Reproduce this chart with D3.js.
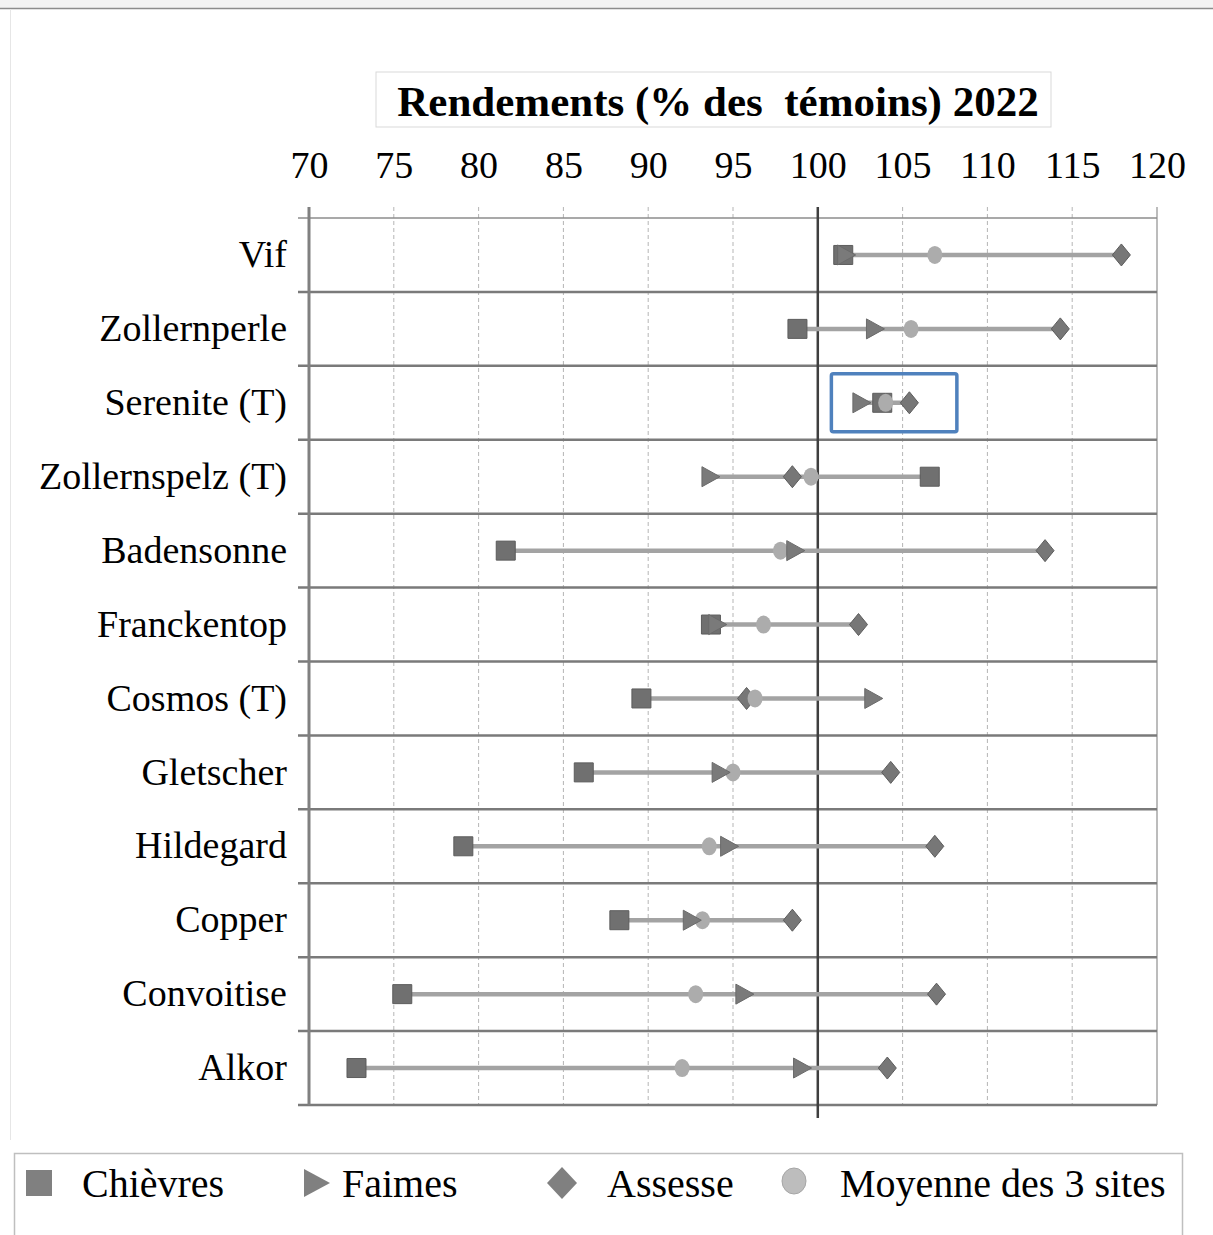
<!DOCTYPE html>
<meta charset="utf-8">
<script src="https://d3js.org/d3.v7.min.js"></script>
<style>
  body { margin: 0; background: #fff; }
  text { font-family: "Liberation Serif", "Times New Roman", serif; fill: #000; }
</style>
<div id="dataviz"></div>
<script>

// yields, % of controls, 2022
var categories = ["Vif", "Zollernperle", "Serenite (T)", "Zollernspelz (T)", "Badensonne",
  "Franckentop", "Cosmos (T)", "Gletscher", "Hildegard", "Copper", "Convoitise", "Alkor"];
var chievres = [101.5, 98.8, 103.8, 106.6, 81.6, 93.7, 89.6, 86.2, 79.1, 88.3, 75.5, 72.8];
var faimes   = [101.7, 103.4, 102.6, 93.7, 98.7, 94.1, 103.3, 94.3, 94.8, 92.6, 95.7, 99.1];
var assesse  = [117.9, 114.3, 105.4, 98.5, 113.4, 102.4, 95.8, 104.3, 106.9, 98.5, 107.0, 104.1];
var moyenne  = [106.9, 105.5, 104.0, 99.6, 97.8, 96.8, 96.3, 95.0, 93.6, 93.2, 92.8, 92.0];
var xTicks = [70, 75, 80, 85, 90, 95, 100, 105, 110, 115, 120];
var highlight = {cat: "Serenite (T)", from: 100.8, to: 108.2};

var W = 1213, H = 1235;

var svg = d3.select("#dataviz")
  .append("svg")
    .attr("width", W)
    .attr("height", H);

// page frame
svg.append("rect").attr("x", 0).attr("y", 0).attr("width", W).attr("height", 8).attr("fill", "#f3f3f3");
svg.append("line").attr("x1", 0).attr("x2", W).attr("y1", 8.5).attr("y2", 8.5)
  .attr("stroke", "#8c8c8c").attr("stroke-width", 1.5);
svg.append("line").attr("x1", 10.5).attr("x2", 10.5).attr("y1", 9).attr("y2", 1140)
  .attr("stroke", "#e6e6e6").attr("stroke-width", 1);

var x = d3.scaleLinear()
  .domain([70, 120])
  .range([309, 1157]);

var y = d3.scaleBand()
  .domain(categories)
  .range([218, 1105]);

var plotTop = y.range()[0], plotBottom = y.range()[1];

// title
svg.append("rect")
  .attr("x", 376).attr("y", 72).attr("width", 675).attr("height", 55)
  .attr("fill", "#fff").attr("stroke", "#d9d9d9");
svg.append("text")
  .attr("x", 718).attr("y", 116)
  .attr("text-anchor", "middle")
  .style("font-weight", "bold")
  .style("font-size", "43px")
  .style("white-space", "pre")
  .text("Rendements (% des  témoins) 2022");

// vertical gridlines (dashed)
svg.append("g")
  .selectAll("line")
  .data(xTicks.filter(function(d) { return d != 70 && d != 100 && d != 120; }))
  .enter()
  .append("line")
    .attr("x1", function(d) { return x(d); })
    .attr("x2", function(d) { return x(d); })
    .attr("y1", plotTop - 11)
    .attr("y2", plotBottom)
    .attr("stroke", "#b5b5b5")
    .attr("stroke-dasharray", "4,3")
    .attr("stroke-width", 1);

// right border
svg.append("line")
  .attr("x1", x(120)).attr("x2", x(120)).attr("y1", plotTop - 11).attr("y2", plotBottom)
  .attr("stroke", "#a6a6a6").attr("stroke-width", 1.5);

// row separators
var bounds = categories.map(function(c) { return y(c); }).concat([plotBottom]);
svg.append("g")
  .selectAll("line")
  .data(bounds)
  .enter()
  .append("line")
    .attr("x1", 298)
    .attr("x2", x(120))
    .attr("y1", function(d) { return d; })
    .attr("y2", function(d) { return d; })
    .attr("stroke", function(d, i) { return i == 0 ? "#8c8c8c" : "#7a7a7a"; })
    .attr("stroke-width", function(d, i) { return i == 0 ? 1.5 : 2.5; });

// left axis line
svg.append("line")
  .attr("x1", x(70)).attr("x2", x(70)).attr("y1", plotTop - 11).attr("y2", plotBottom)
  .attr("stroke", "#808080").attr("stroke-width", 3);

// 100 reference line
svg.append("line")
  .attr("x1", x(100)).attr("x2", x(100)).attr("y1", plotTop - 11).attr("y2", plotBottom + 13)
  .attr("stroke", "#3f3f3f").attr("stroke-width", 2.5);

// top axis labels
var xAxis = svg.append("g")
  .attr("transform", "translate(0," + plotTop + ")")
  .call(d3.axisTop(x).tickValues(xTicks).tickSize(0).tickPadding(40).tickFormat(d3.format("d")));
xAxis.select(".domain").remove();
xAxis.selectAll("text")
  .style("font-family", "'Liberation Serif', serif")
  .style("font-size", "38px")
  .attr("fill", "#000");

// category labels
var yAxis = svg.append("g")
  .attr("transform", "translate(" + x(70) + ",0)")
  .call(d3.axisLeft(y).tickSize(0).tickPadding(22));
yAxis.select(".domain").remove();
yAxis.selectAll("text")
  .style("font-family", "'Liberation Serif', serif")
  .style("font-size", "38px")
  .attr("fill", "#000");

var rows = categories.map(function(c, i) {
  return {cat: c, ch: chievres[i], fa: faimes[i], as: assesse[i], mo: moyenne[i]};
});

function cy(d) { return y(d.cat) + y.bandwidth() / 2; }

// range lines
svg.append("g")
  .selectAll("line")
  .data(rows)
  .enter()
  .append("line")
    .attr("x1", function(d) { return x(Math.min(d.ch, d.fa, d.as)); })
    .attr("x2", function(d) { return x(Math.max(d.ch, d.fa, d.as)); })
    .attr("y1", cy)
    .attr("y2", cy)
    .attr("stroke", "#a3a3a3")
    .attr("stroke-width", 4.5);

var sq = "M-9.5,-9.5H9.5V9.5H-9.5Z";
var tri = "M-9,-10L9,0L-9,10Z";
var dia = "M0,-11L9,0L0,11L-9,0Z";

// Chièvres
svg.append("g")
  .selectAll("path")
  .data(rows)
  .enter()
  .append("path")
    .attr("d", sq)
    .attr("transform", function(d) { return "translate(" + x(d.ch) + "," + cy(d) + ")"; })
    .attr("fill", "#707070")
    .attr("stroke", "#5c5c5c");

// Assesse
svg.append("g")
  .selectAll("path")
  .data(rows)
  .enter()
  .append("path")
    .attr("d", dia)
    .attr("transform", function(d) { return "translate(" + x(d.as) + "," + cy(d) + ")"; })
    .attr("fill", "#777")
    .attr("stroke", "#5c5c5c");

// Moyenne
svg.append("g")
  .selectAll("ellipse")
  .data(rows)
  .enter()
  .append("ellipse")
    .attr("cx", function(d) { return x(d.mo); })
    .attr("cy", cy)
    .attr("rx", 7.5)
    .attr("ry", 9)
    .attr("fill", "#acacac");

// Faimes
svg.append("g")
  .selectAll("path")
  .data(rows)
  .enter()
  .append("path")
    .attr("d", tri)
    .attr("transform", function(d) { return "translate(" + x(d.fa) + "," + cy(d) + ")"; })
    .attr("fill", "#7a7a7a")
    .attr("stroke", "#6a6a6a");

// highlight box
svg.append("rect")
  .attr("x", x(highlight.from))
  .attr("y", y(highlight.cat) + 8)
  .attr("width", x(highlight.to) - x(highlight.from))
  .attr("height", y.bandwidth() - 16)
  .attr("rx", 2)
  .attr("fill", "none")
  .attr("stroke", "#4f81bd")
  .attr("stroke-width", 3.5);

// legend
svg.append("rect")
  .attr("x", 14.5).attr("y", 1153.5).attr("width", 1168).attr("height", 100)
  .attr("fill", "#fff").attr("stroke", "#bfbfbf").attr("stroke-width", 1.5);

var legend = [
  {name: "Chièvres", shape: "M-13,-13H13V13H-13Z", mx: 39, tx: 82, fill: "#808080"},
  {name: "Faimes", shape: "M-13,-14L13,0L-13,14Z", mx: 317, tx: 342, fill: "#808080"},
  {name: "Assesse", shape: "M0,-16L15,0L0,16L-15,0Z", mx: 562, tx: 607, fill: "#808080"},
  {name: "Moyenne des 3 sites", shape: null, mx: 794, tx: 840, fill: "#bdbdbd"}
];
var ly = 1183;
var lg = svg.append("g");
legend.forEach(function(l) {
  if (l.shape) {
    lg.append("path").attr("d", l.shape)
      .attr("transform", "translate(" + l.mx + "," + ly + ")")
      .attr("fill", l.fill);
  } else {
    lg.append("ellipse").attr("cx", l.mx).attr("cy", ly - 2).attr("rx", 12).attr("ry", 13)
      .attr("fill", l.fill).attr("stroke", "#a6a6a6");
  }
  lg.append("text")
    .attr("x", l.tx).attr("y", ly + 14)
    .style("font-size", "40px")
    .text(l.name);
});

</script>
